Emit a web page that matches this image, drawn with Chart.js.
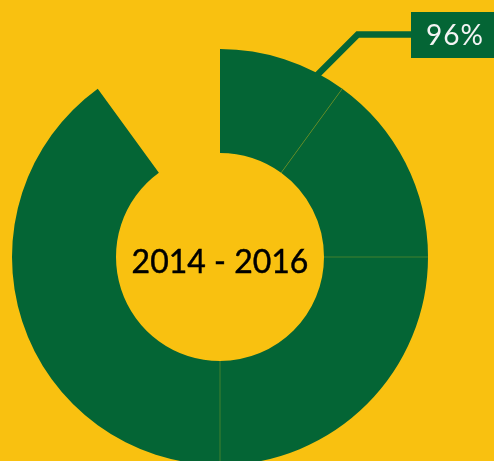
<!DOCTYPE html>
<html>
<head>
<meta charset="utf-8">
<script src="https://cdn.jsdelivr.net/npm/chart.js@4.4.1/dist/chart.umd.min.js"></script>
<style>
  html, body { margin: 0; padding: 0; background: #F9C110; overflow: hidden; }
  #wrap { position: relative; width: 494px; height: 470px; }
</style>
</head>
<body>
<div id="wrap"><canvas id="donut"></canvas></div>
<script>
// Data
const segments = ['A', 'B', 'C', 'D', 'gap'];
const shares = [10, 15, 25, 40, 10];
const centerLabel = '2014 - 2016';
const calloutLabel = '96%';

const GREEN = '#046535';
const YELLOW = '#F9C110';

// Texte au centre + separateurs + étiquette
const extras = {
  id: 'extras',
  afterDatasetsDraw(chart) {
    const ctx = chart.ctx;
    const arcs = chart.getDatasetMeta(0).data;
    const a0 = arcs[0];
    const cx = a0.x, cy = a0.y;

    // fines lignes entre segments
    ctx.save();
    ctx.strokeStyle = 'rgba(120,150,40,0.55)';
    ctx.lineWidth = 1;
    for (let i = 1; i < arcs.length - 1; i++) {
      const a = arcs[i];
      const ang = a.startAngle;
      ctx.beginPath();
      ctx.moveTo(cx + Math.cos(ang) * a.innerRadius, cy + Math.sin(ang) * a.innerRadius);
      ctx.lineTo(cx + Math.cos(ang) * a.outerRadius, cy + Math.sin(ang) * a.outerRadius);
      ctx.stroke();
    }
    ctx.restore();

    // texte central (un peu épaissi)
    ctx.save();
    ctx.fillStyle = '#000';
    ctx.strokeStyle = '#000';
    ctx.lineWidth = 0.45;
    ctx.font = '32px Lato';
    ctx.textAlign = 'center';
    ctx.textBaseline = 'middle';
    ctx.fillText(centerLabel, cx, cy + 6);
    ctx.strokeText(centerLabel, cx, cy + 6);
    ctx.restore();

    // ligne de rappel
    const ang = -Math.PI / 2 + 28 * Math.PI / 180;
    const r = a0.outerRadius - 3;
    const sx = cx + Math.cos(ang) * r, sy = cy + Math.sin(ang) * r;
    const boxX = 411, boxY = 12, boxW = 90, boxH = 46;
    const ly = boxY + boxH / 2 - 0.5;
    const ex = sx + (sy - ly);
    ctx.save();
    ctx.strokeStyle = GREEN;
    ctx.lineWidth = 6.5;
    ctx.lineJoin = 'miter';
    ctx.beginPath();
    ctx.moveTo(sx, sy);
    ctx.lineTo(ex, ly);
    ctx.lineTo(boxX + 2, ly);
    ctx.stroke();
    ctx.fillStyle = GREEN;
    ctx.fillRect(boxX, boxY, boxW, boxH);
    ctx.fillStyle = '#F4F4F4';
    ctx.font = '28px Lato';
    ctx.letterSpacing = '1px';
    ctx.textAlign = 'center';
    ctx.textBaseline = 'middle';
    ctx.fillText(calloutLabel, 455, boxY + boxH / 2 + 1);
    ctx.restore();
  }
};

new Chart(document.getElementById('donut'), {
  type: 'doughnut',
  data: {
    labels: segments,
    datasets: [{
      data: shares,
      backgroundColor: [GREEN, GREEN, GREEN, GREEN, 'rgba(0,0,0,0)'],
      borderWidth: 0
    }]
  },
  options: {
    responsive: true,
    maintainAspectRatio: false,
    animation: false,
    cutout: '50%',
    layout: { padding: { left: 12, right: 66, top: 49, bottom: 5 } },
    plugins: { legend: { display: false }, tooltip: { enabled: false } }
  },
  plugins: [extras]
});
</script>
</body>
</html>
